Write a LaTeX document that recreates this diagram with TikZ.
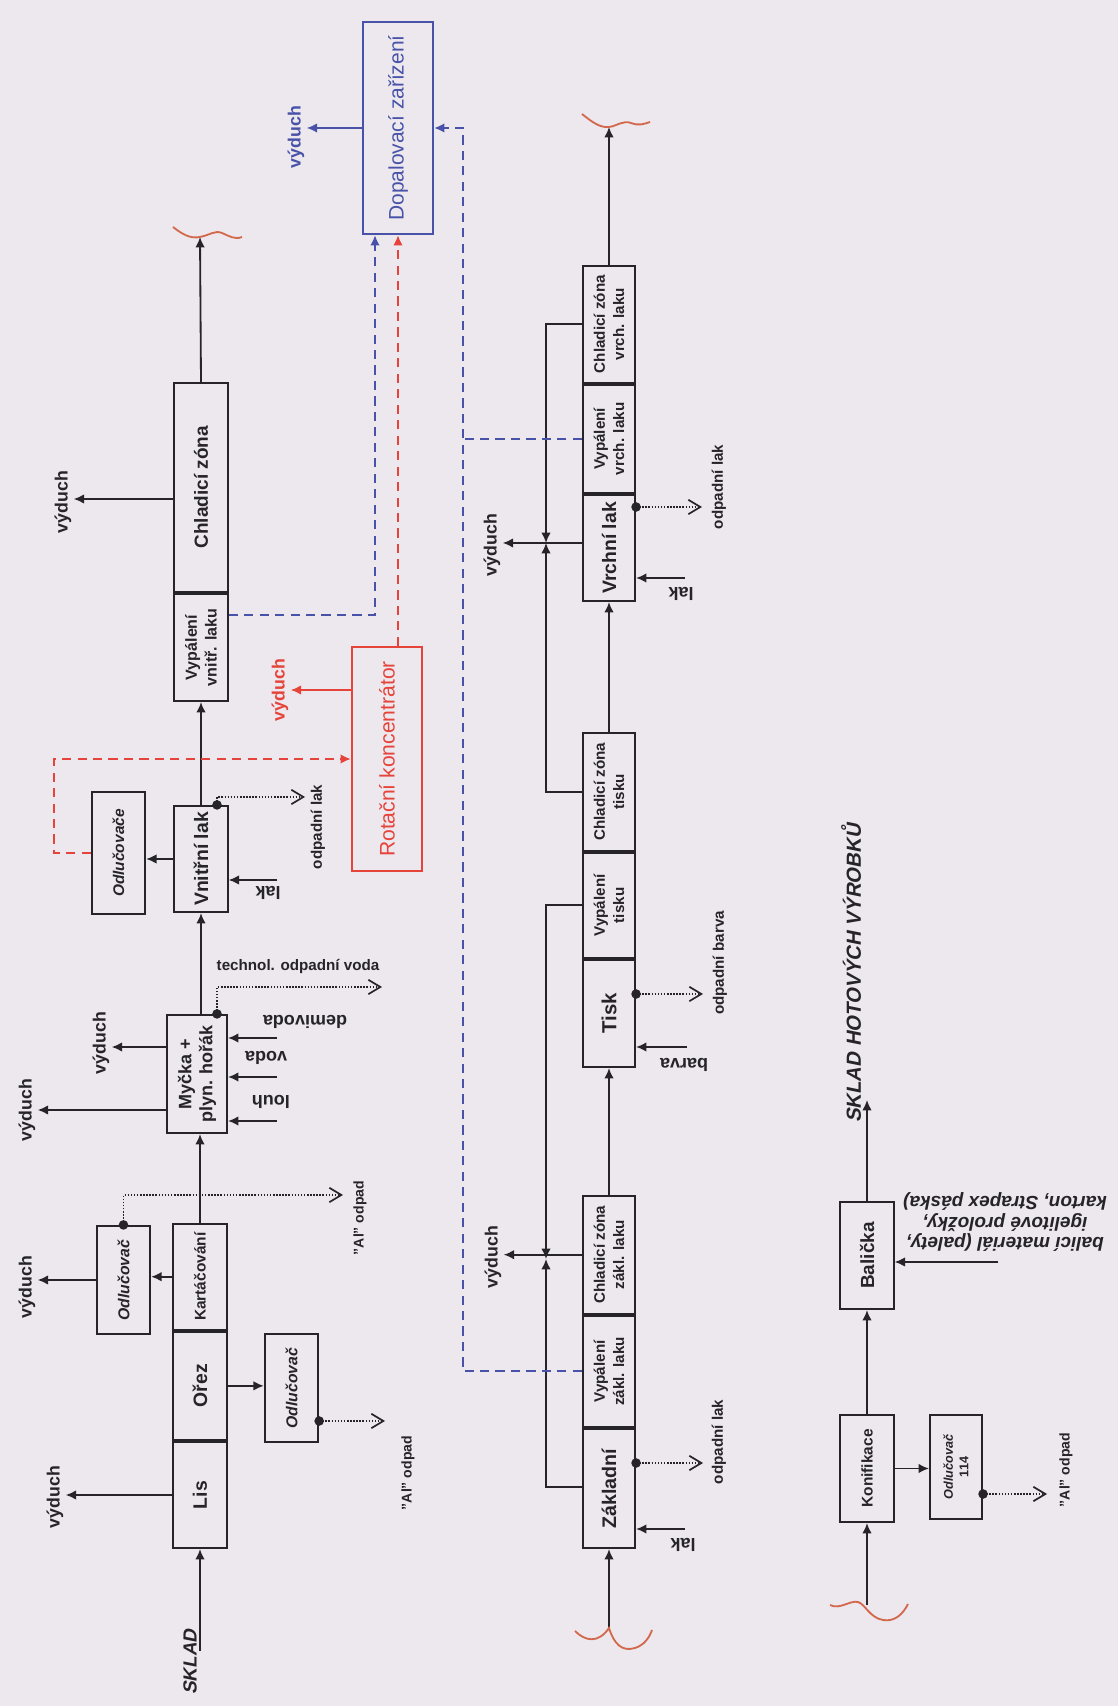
\documentclass[tikz,border=0pt]{standalone}
\usepackage{fontspec}
\setmainfont{Liberation Sans}
\newfontfamily\slantsans{Liberation Sans}[FakeSlant=0.2]
\usetikzlibrary{positioning,arrows.meta}

\definecolor{paper}{RGB}{236,232,238}
\definecolor{ink}{RGB}{38,36,40}
\definecolor{rotred}{RGB}{230,68,58}
\definecolor{dopblue}{RGB}{72,82,168}
\definecolor{pen}{RGB}{212,104,76}

\begin{document}
\begin{tikzpicture}[
  x=0.025cm, y=0.025cm,
  unit/.style={draw=ink, line width=1.5pt, fill=paper, rotate=90, text=ink,
               minimum width=2.675cm, minimum height=1.33cm, inner sep=1pt,
               align=center, font=\fontsize{13.8}{15}\selectfont\bfseries},
  unitsm/.style={unit, font=\fontsize{10.8}{13.8}\selectfont\bfseries},
  row2/.style={minimum height=1.3cm},
  sepbox/.style={unit, font=\fontsize{11.2}{13}\selectfont\bfseries\itshape},
  lbl/.style={inner sep=1.5pt, align=center, text=ink,
              font=\fontsize{10.8}{13}\selectfont\bfseries},
  note/.style={lbl, rotate=90},
  vent/.style={note, font=\fontsize{12.6}{14}\selectfont\bfseries},
  feed/.style={lbl, rotate=180, font=\fontsize{12.8}{15}\selectfont\bfseries},
  head/.style={note, font=\fontsize{13.5}{15}\selectfont\slantsans\bfseries},
  flow/.style={draw=ink, line width=1.3pt, -{Latex[length=2.6mm, width=2.4mm]}},
  waste/.style={draw=ink, line width=1.4pt, dash pattern=on 1.1pt off 1.1pt,
                -{Straight Barb[length=3mm, width=3.6mm, line width=1.2pt]}},
  redflow/.style={draw=rotred, line width=1.7pt, dash pattern=on 6.5pt off 4.5pt,
                  -{Latex[length=2.6mm, width=2.4mm]}},
  blueflow/.style={draw=dopblue, line width=1.5pt, dash pattern=on 6.5pt off 4.5pt,
                   -{Latex[length=2.6mm, width=2.4mm]}},
  squig/.style={draw=pen, line width=1.3pt},
]

% ---- sheet ----
\fill[paper] (0,0) rectangle (1118,1706);

% ---- line 1: lis, myčka, vnitřní lak ----
\node[head] (sklad) at (190,44) {SKLAD};
\coordinate (skl) at (200,55);
\node[unit, minimum width=2.65cm] (lis) at (200,211) {Lis};
\node[unit, minimum width=2.7cm, right=0pt of lis] (orez) {Ořez};
\node[unit, minimum width=2.65cm, right=0pt of orez,
      font=\fontsize{11}{13}\selectfont\bfseries] (kart) {Kartáčování};
\node[unit, minimum width=2.95cm, minimum height=1.5cm,
      font=\fontsize{12.8}{15}\selectfont\bfseries] (myc) at (197,632) {Myčka +\\plyn. hořák};
\node[unit, minimum width=2.65cm] (vnit) at (201,847) {Vnitřní lak};
\node[unitsm, font=\fontsize{11.4}{14}\selectfont\bfseries] (vypvn) at (201,1058.5) {Vypálení\\vnitř. laku};
\node[unit, minimum width=5.225cm, right=0pt of vypvn,
      font=\fontsize{13.5}{15}\selectfont\bfseries] (chl) {Chladicí zóna};

\node[sepbox, minimum width=2.7cm] (odlA) at (291.5,318) {Odlučovač};
\node[sepbox, minimum width=2.7cm] (odlB) at (123.5,426) {Odlučovač};
\node[sepbox, minimum width=3.05cm, font=\fontsize{11}{13}\selectfont\bfseries\itshape]
  (odlC) at (118.5,853) {Odlučovače};

\node[unit, draw=rotred, text=rotred, minimum width=5.6cm, minimum height=1.75cm,
      font=\fontsize{15}{17}\selectfont] (rot) at (387,947) {Rotační koncentrátor};
\node[unit, draw=dopblue, text=dopblue, minimum width=5.3cm, minimum height=1.75cm,
      font=\fontsize{14.9}{17}\selectfont] (dop) at (398,1578) {Dopalovací zařízení};

\node[vent] (vyd1) at (55,209) {výduch};
\node[vent] (vyd2) at (27,419) {výduch};
\node[vent] (vyd3) at (101,663) {výduch};
\node[vent] (vyd4) at (27,596) {výduch};
\node[vent] (vyd5) at (63,1204) {výduch};
\node[vent, text=rotred] (vyd6) at (280,1016) {výduch};
\node[vent, text=dopblue] (vyd7) at (296,1569) {výduch};

\node[note, font=\fontsize{10}{12}\selectfont\bfseries] (alA) at (408,233) {"Al" odpad};
\node[note, font=\fontsize{10}{12}\selectfont\bfseries] (alB) at (360,488) {"Al" odpad};
\node[note] (odpA) at (318,879) {odpadní lak};
\node[lbl] (techn) at (298,739) {technol. odpadní voda};

\node[feed] (louh) at (271,604) {louh};
\node[feed] (voda) at (266,648) {voda};
\node[feed] (demi) at (305,684) {demivoda};
\node[feed] (lakA) at (268,813) {lak};

\coordinate (in-louh) at (277,585);
\coordinate (in-voda) at (277,629);
\coordinate (in-demi) at (277,668);
\coordinate (in-lakA) at (277,826);
\coordinate (wA) at (385,285);
\coordinate (wB) at (343,511);
\coordinate (wC) at (382,719);
\coordinate (wD) at (305,909);
\coordinate (sqA) at (200,1469);

\draw[flow] (skl) -- (lis);
\draw[flow] (lis.north) -- (lis.north -| vyd1.south);
\draw[flow] (orez.south) -- (orez.south -| odlA.north);
\draw[flow] (kart.north) -- (kart.north -| odlB.south);
\draw[flow] (odlB.north) -- (odlB.north -| vyd2.south);
\draw[flow] (kart.east) -- (kart.east |- myc.west);
\draw[flow] (myc.north |- 0,659) -- (vyd3.south |- 0,659);
\draw[flow] (myc.north |- 0,596) -- (vyd4.south |- 0,596);
\foreach \f in {louh,voda,demi}
  \draw[flow] (in-\f) -- (myc.south |- in-\f);
\draw[flow] (vnit.west |- myc.east) -- (vnit.west);
\draw[flow] (in-lakA) -- (vnit.south |- in-lakA);
\draw[flow] (vnit.north) -- (vnit.north -| odlC.south);
\draw[flow] (vnit.east) -- (vypvn.west);
\draw[flow] (chl.north |- 0,1207) -- (vyd5.south |- 0,1207);
\draw[flow] (chl.east) -- (sqA);
\draw[squig] (173,1479) .. controls (182,1472) and (190,1467) .. (200,1469)
  .. controls (210,1471) and (215,1476) .. (222,1473)
  .. controls (229,1470) and (235,1466) .. (242,1469);

% waste outlets
\fill[ink] (odlA.south |- 0,285) circle[radius=0.12cm];
\draw[waste] (odlA.south |- 0,285) -- (wA);
\fill[ink] (odlB.east) circle[radius=0.12cm];
\draw[waste] (odlB.east) |- (wB);
\fill[ink] (myc.east -| 217,0) circle[radius=0.12cm];
\draw[waste] (myc.east -| 217,0) |- (wC);
\fill[ink] (vnit.east -| 217,0) circle[radius=0.12cm];
\draw[waste] (vnit.east -| 217,0) |- (wD);

% exhaust treatment
\draw[redflow] (odlC.north) -- ++(-37,0) |- (rot.north);
\draw[flow, draw=rotred] (rot.north |- 0,1016) -- (vyd6.south |- 0,1016);
\draw[redflow] (rot.east -| dop.west) -- (dop.west);
\draw[blueflow] (vypvn.south |- 0,1091) -| (dop.west -| 375,0);
\draw[flow, draw=dopblue] (dop.north) -- (dop.north -| vyd7.south);

% ---- line 2: lakování a tisk ----
\node[unit, row2, minimum width=2.975cm, font=\fontsize{14}{15}\selectfont\bfseries]
  (zakl) at (609,217.5) {Základní};
\node[unitsm, row2, minimum width=2.775cm, right=0pt of zakl] (vypzk) {Vypálení\\zákl. laku};
\node[unitsm, row2, minimum width=2.95cm, right=0pt of vypzk] (chlzk) {Chladicí zóna\\zákl. laku};
\node[unit, row2, font=\fontsize{14.5}{15}\selectfont\bfseries] (tisk) at (609,692.5) {Tisk};
\node[unitsm, row2, minimum width=2.625cm, right=0pt of tisk] (vypts) {Vypálení\\tisku};
\node[unitsm, row2, minimum width=2.95cm, right=0pt of vypts] (chlts) {Chladicí zóna\\tisku};
\node[unit, row2, minimum width=2.65cm] (vrch) at (609,1158) {Vrchní lak};
\node[unitsm, row2, minimum width=2.7cm, right=0pt of vrch] (vypvr) {Vypálení\\vrch. laku};
\node[unitsm, row2, minimum width=2.925cm, right=0pt of vypvr] (chlvr) {Chladicí zóna\\vrch. laku};

\node[vent] (vyd8) at (493,449) {výduch};
\node[vent] (vyd9) at (492,1161) {výduch};
\node[note] (odpB) at (719,264) {odpadní lak};
\node[note] (odpC) at (720,743) {odpadní barva};
\node[note] (odpD) at (719,1219) {odpadní lak};
\node[feed] (lakB) at (683,161) {lak};
\node[feed] (barva) at (684,641) {barva};
\node[feed] (lakC) at (681,1112) {lak};

\coordinate (sqB) at (609,78);
\coordinate (sqC) at (609,1579);
\coordinate (jA) at (546,447);
\coordinate (jB) at (546,1163);
\coordinate (in-lakB) at (685,177);
\coordinate (in-barva) at (687,659);
\coordinate (in-lakC) at (685,1128);
\coordinate (wE) at (703,243);
\coordinate (wF) at (703,712);
\coordinate (wG) at (702,1199);

\draw[flow] (sqB) -- (zakl);
\draw[squig] (575,75) .. controls (585,65) and (598,62) .. (609,78)
  .. controls (614,62) and (622,54) .. (635,58)
  .. controls (645,61) and (650,70) .. (652,76);
\draw[flow] (in-lakB) -- (zakl.south |- in-lakB);
\draw[flow] (zakl.north |- 0,219) -| (jA);
\draw[flow] (vypts.north) -| (jA);
\draw[flow] (chlzk.north) -- (chlzk.north -| vyd8.south);
\draw[flow] (chlzk.east) -- (tisk.west);
\draw[flow] (in-barva) -- (tisk.south |- in-barva);
\draw[flow] (chlts.north) -| (jB);
\draw[flow] (chlvr.north) -| (jB);
\draw[flow] (vrch.north |- jB) -- (vyd9.south |- jB);
\draw[flow] (chlts.east) -- (vrch.west);
\draw[flow] (in-lakC) -- (vrch.south |- in-lakC);
\draw[flow] (chlvr.east) -- (sqC);
\draw[squig] (582,1592) .. controls (592,1584) and (600,1578) .. (609,1579)
  .. controls (617,1580) and (623,1586) .. (631,1583)
  .. controls (639,1580) and (644,1582) .. (650,1584);

\fill[ink] (zakl.south |- 0,243) circle[radius=0.12cm];
\draw[waste] (zakl.south |- 0,243) -- (wE);
\fill[ink] (tisk.south |- 0,712) circle[radius=0.12cm];
\draw[waste] (tisk.south |- 0,712) -- (wF);
\fill[ink] (vrch.south |- 0,1199) circle[radius=0.12cm];
\draw[waste] (vrch.south |- 0,1199) -- (wG);

\draw[blueflow] (vypzk.north) -| (dop.south -| 463,0) -- (dop.south);
\draw[blueflow, -] (vypvr.north) -- (vypvr.north -| 463,0);

% ---- line 3: konifikace, balení ----
\node[unit, font=\fontsize{11}{13}\selectfont\bfseries] (konif) at (867,237.5) {Konifikace};
\node[sepbox, row2, minimum width=2.6cm, font=\fontsize{9}{11}\selectfont\bfseries\itshape]
  (odlD) at (956,239) {Odlučovač\\\textup{114}};
\node[unit, font=\fontsize{13.5}{15}\selectfont\bfseries] (bal) at (867,450.5) {Balička};
\node[note, font=\fontsize{10}{12}\selectfont\bfseries] (alC) at (1066,236) {"Al" odpad};
\node[feed, font=\fontsize{13.5}{14.9}\selectfont\bfseries\itshape] (balmat) at (1005,484)
  {balicí materiál (palety,\\igelitové proložky,\\karton, Strapex páska)};
\node[head, font=\fontsize{14.5}{16}\selectfont\slantsans\bfseries] (skhv) at (851,732.5)
  {SKLAD HOTOVÝCH VÝROBKŮ};

\coordinate (sqD) at (867,101);
\coordinate (in-bal) at (998,444);
\coordinate (skhvin) at (867,606);
\coordinate (wH) at (1047,212);

\draw[flow] (sqD) -- (konif);
\draw[squig] (830,101) .. controls (840,96) and (850,106) .. (858,104)
  .. controls (865,102) and (870,88) .. (883,86)
  .. controls (895,84) and (903,92) .. (908,102);
\draw[flow] (konif.south) -- (konif.south -| odlD.north);
\draw[flow] (konif) -- (bal);
\draw[flow] (in-bal) -- (bal.south |- in-bal);
\draw[flow] (bal) -- (skhvin);
\fill[ink] (odlD.south |- 0,212) circle[radius=0.12cm];
\draw[waste] (odlD.south |- 0,212) -- (wH);

\end{tikzpicture}
\end{document}
